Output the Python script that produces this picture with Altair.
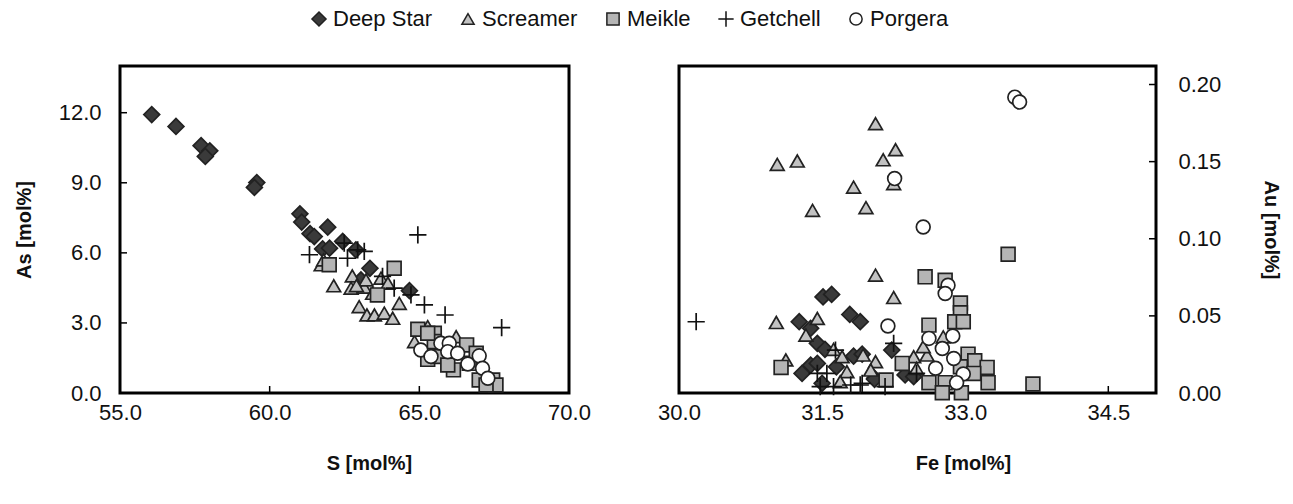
import altair as alt
import pandas as pd

SITES = ["Deep Star", "Screamer", "Meikle", "Getchell", "Porgera"]
SHAPES = ["M-1.15,0L0,-1.15L1.15,0L0,1.15Z", "triangle-up", "square",
          "M-1.25,0L1.25,0M0,-1.25L0,1.25", "circle"]
FILLS = ["#3a3a3a", "#c2c2c2", "#b5b5b5", "#000000", "#ffffff"]
STROKES = ["#222222", "#222222", "#222222", "#111111", "#222222"]

# ---- Left panel: S vs As (mol%) ----
ds_S = [56.06, 56.87, 57.71, 58.00, 57.85, 59.57, 59.49, 61.01, 61.07, 61.35, 61.49, 61.94,
        61.77, 62.00, 62.44, 62.88, 63.35, 64.67, 63.05]
ds_As = [11.92, 11.41, 10.59, 10.37, 10.13, 9.01, 8.80, 7.67, 7.32, 6.82, 6.70, 7.10,
         6.17, 6.20, 6.49, 6.13, 5.34, 4.38, 4.84]
sc_S = [61.72, 62.14, 62.76, 62.72, 63.16, 63.22, 62.99, 63.25, 63.50, 63.83, 64.11, 64.33,
        63.72, 63.44, 65.28, 66.23, 64.84, 61.80, 62.90, 63.95, 65.60]
sc_As = [5.49, 4.59, 5.01, 4.49, 4.53, 4.84, 3.70, 3.34, 3.34, 3.42, 3.20, 3.84,
         4.92, 4.27, 2.84, 2.41, 2.20, 5.70, 4.60, 4.70, 2.50]
me_S = [61.99, 64.16, 63.60, 64.95, 65.50, 65.50, 66.58, 65.28, 66.14, 67.00, 67.45, 67.56,
        67.23, 66.67, 65.62, 66.90, 65.95, 65.28]
me_As = [5.49, 5.34, 4.20, 2.73, 2.56, 2.20, 2.06, 1.44, 0.99, 0.56, 0.56, 0.34,
         0.34, 1.27, 1.56, 1.70, 1.20, 2.56]
ge_S = [61.33, 62.60, 62.94, 63.16, 64.95, 65.17, 63.77, 64.16, 64.72, 62.49, 65.86, 67.75]
ge_As = [5.92, 5.77, 6.13, 6.06, 6.77, 3.77, 4.99, 4.49, 4.20, 6.42, 3.34, 2.80]
po_S = [65.05, 65.39, 65.72, 66.00, 65.95, 66.28, 66.62, 67.00, 67.11, 67.29]
po_As = [1.84, 1.56, 2.13, 2.13, 1.77, 1.70, 1.24, 1.59, 1.06, 0.63]

# ---- Right panel: Fe vs Au (mol%) ----
ds_Fe = [31.51, 31.60, 31.26, 31.79, 31.90, 31.38, 31.45, 31.53, 31.83, 31.92, 31.38, 31.45,
         31.29, 31.65, 31.50, 32.05, 32.23, 32.05, 32.37, 32.46]
ds_Au = [0.0623, 0.0639, 0.0462, 0.0509, 0.0462, 0.0419, 0.0322, 0.0283, 0.0239, 0.0252, 0.0181, 0.0192,
         0.0127, 0.0170, 0.0063, 0.0095, 0.0278, 0.0089, 0.0117, 0.0106]
sc_Fe = [32.06, 32.27, 32.14, 31.03, 31.24, 31.83, 31.96, 31.40, 32.25, 32.06, 31.02, 31.45,
         31.33, 31.62, 31.71, 31.12, 31.93, 31.76, 31.69, 32.06, 32.01, 32.25, 32.46, 32.60,
         32.49, 32.77, 32.56]
sc_Au = [0.1746, 0.1577, 0.1512, 0.1482, 0.1504, 0.1335, 0.1202, 0.1184, 0.1357, 0.0764, 0.0457, 0.0483,
         0.0375, 0.0283, 0.0235, 0.0214, 0.0246, 0.0138, 0.0073, 0.0203, 0.0149, 0.0619, 0.0235, 0.0246,
         0.0160, 0.0364, 0.0300]
me_Fe = [33.45, 31.07, 32.58, 32.79, 32.95, 32.95, 32.89, 32.98, 32.62, 33.03, 33.10, 33.23,
         32.34, 33.24, 32.62, 32.79, 32.76, 32.96, 33.71, 32.17, 32.95, 33.09]
me_Au = [0.0900, 0.0166, 0.0753, 0.0731, 0.0584, 0.0520, 0.0462, 0.0462, 0.0440, 0.0252, 0.0209, 0.0166,
         0.0192, 0.0067, 0.0067, 0.0067, 0.0002, 0.0002, 0.0058, 0.0084, 0.0170, 0.0127]
ge_Fe = [30.18, 31.45, 31.55, 31.48, 31.62, 31.80, 31.90, 31.64, 32.25, 31.92, 32.16, 32.49]
ge_Au = [0.0462, 0.0127, 0.0127, 0.0041, 0.0041, 0.0052, 0.0052, 0.0278, 0.0322, 0.0063, 0.0041, 0.0127]
po_Fe = [32.26, 32.56, 33.52, 33.57, 32.82, 32.79, 32.19, 32.62, 32.76, 32.87, 32.88, 32.69, 32.98, 32.91]
po_Au = [0.1390, 0.1076, 0.1918, 0.1886, 0.0699, 0.0645, 0.0434, 0.0354, 0.0289, 0.0369, 0.0224, 0.0160,
         0.0123, 0.0067]

S_TICKS = [55, 60, 65, 70]
AS_TICKS = [0, 3, 6, 9, 12]
FE_TICKS = [30.0, 31.5, 33.0, 34.5]
AU_TICKS = [0.0, 0.05, 0.10, 0.15, 0.20]


def long_df(pairs, xname, yname):
    rows = []
    for site, xs, ys in pairs:
        for xv, yv in zip(xs, ys):
            rows.append({"site": site, xname: xv, yname: yv})
    return pd.DataFrame(rows)


left_df = long_df([("Deep Star", ds_S, ds_As), ("Screamer", sc_S, sc_As), ("Meikle", me_S, me_As),
                   ("Getchell", ge_S, ge_As), ("Porgera", po_S, po_As)], "S", "As")
right_df = long_df([("Deep Star", ds_Fe, ds_Au), ("Screamer", sc_Fe, sc_Au), ("Meikle", me_Fe, me_Au),
                    ("Getchell", ge_Fe, ge_Au), ("Porgera", po_Fe, po_Au)], "Fe", "Au")

FONT = "Liberation Sans"
LW, RW, H = 449, 477, 327

legend = alt.Legend(title=None, orient="none", legendX=188, legendY=-58, direction="horizontal",
                    labelFont=FONT, labelFontSize=22, labelColor="#111", symbolSize=150,
                    symbolStrokeWidth=1.5, columnPadding=24, labelOffset=3)
shape_enc = alt.Shape("site:N", scale=alt.Scale(domain=SITES, range=SHAPES), legend=legend)
fill_enc = alt.Fill("site:N", scale=alt.Scale(domain=SITES, range=FILLS), legend=legend)
stroke_enc = alt.Stroke("site:N", scale=alt.Scale(domain=SITES, range=STROKES), legend=legend)

X_S = alt.X("S:Q", scale=alt.Scale(domain=[55, 70], nice=False),
            axis=alt.Axis(values=S_TICKS, format=".1f", title="S [mol%]", titleX=249, titlePadding=30,
                          labelPadding=9))
Y_As = alt.Y("As:Q", scale=alt.Scale(domain=[0, 14], nice=False),
             axis=alt.Axis(values=AS_TICKS, format=".1f", title="As [mol%]", titlePadding=24,
                           labelPadding=19))
X_Fe = alt.X("Fe:Q", scale=alt.Scale(domain=[30, 35], nice=False),
             axis=alt.Axis(values=FE_TICKS, format=".1f", title="Fe [mol%]", titleX=284, titlePadding=30,
                           labelPadding=9))
Y_Au = alt.Y("Au:Q", scale=alt.Scale(domain=[0, 0.212], nice=False),
             axis=alt.Axis(values=AU_TICKS, format=".2f", title="Au [mol%]", orient="right",
                           titlePadding=40, labelPadding=22))

MARK = dict(opacity=1, fillOpacity=1, strokeWidth=1.7, size=190)

left_pts = alt.Chart(left_df).mark_point(**MARK).encode(
    x=X_S, y=Y_As, shape=shape_enc, fill=fill_enc, stroke=stroke_enc)
left_xt = alt.Chart(pd.DataFrame({"S": S_TICKS[1:-1]})).mark_rule(color="#000", strokeWidth=1.5).encode(
    x=X_S, y=alt.value(H - 7), y2=alt.value(H))
left_yt = alt.Chart(pd.DataFrame({"As": AS_TICKS[1:]})).mark_rule(color="#000", strokeWidth=1.5).encode(
    y=Y_As, x=alt.value(0), x2=alt.value(7))
left = alt.layer(left_xt, left_yt, left_pts).properties(width=LW, height=H)

right_pts = alt.Chart(right_df).mark_point(**MARK).encode(
    x=X_Fe, y=Y_Au, shape=shape_enc, fill=fill_enc, stroke=stroke_enc)
right_xt = alt.Chart(pd.DataFrame({"Fe": FE_TICKS[1:]})).mark_rule(color="#000", strokeWidth=1.5).encode(
    x=X_Fe, y=alt.value(H - 7), y2=alt.value(H))
right_yt = alt.Chart(pd.DataFrame({"Au": AU_TICKS[1:]})).mark_rule(color="#000", strokeWidth=1.5).encode(
    y=Y_Au, x=alt.value(RW - 7), x2=alt.value(RW))
right = alt.layer(right_xt, right_yt, right_pts).properties(width=RW, height=H)

chart = alt.hconcat(left, right, spacing=110, bounds="flush").properties(
    padding={"left": 12, "top": 8, "right": 10, "bottom": 5}
).configure_view(stroke="#000", strokeWidth=3).configure_axis(
    grid=False, domain=False, ticks=False, labelFlush=False,
    labelFont=FONT, labelFontSize=22, labelColor="#111",
    titleFont=FONT, titleFontSize=20, titleFontWeight="bold", titleColor="#111"
)

chart.save("out.html", embed_options={"renderer": "svg", "actions": False})
